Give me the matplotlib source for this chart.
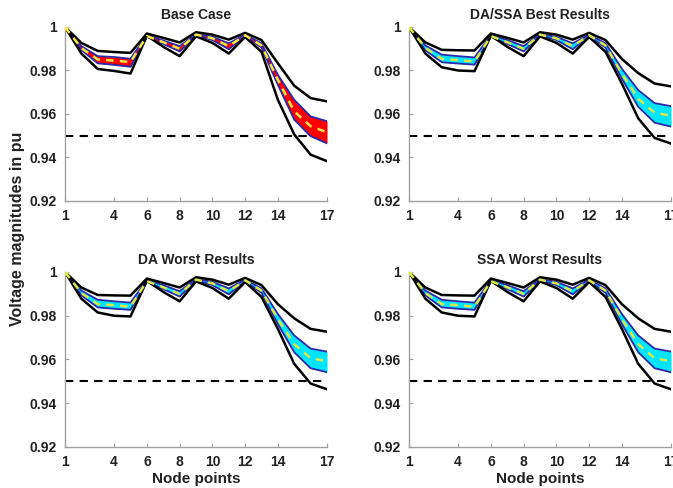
import matplotlib
matplotlib.use("Agg")
import matplotlib.pyplot as plt
import numpy as np

plt.rcParams['font.family'] = ['Liberation Sans', 'DejaVu Sans']

nodes = list(range(1, 18))
xticks = [1, 4, 6, 8, 10, 12, 14, 17]
yticks = [0.92, 0.94, 0.96, 0.98, 1.0]
ytick_labels = ['0.92', '0.94', '0.96', '0.98', '1']
threshold = 0.95

titles = ['Base Case', 'DA/SSA Best Results', 'DA Worst Results', 'SSA Worst Results']

# Base case
base_upper = [1.0, 0.9927, 0.989, 0.9885, 0.9881, 0.997, 0.995, 0.9929, 0.9976, 0.9965, 0.9942, 0.9973, 0.994, 0.9833, 0.973, 0.9673, 0.9658]
base_lower = [1.0, 0.9878, 0.9807, 0.9798, 0.9786, 0.996, 0.9909, 0.9866, 0.9957, 0.9927, 0.9878, 0.9954, 0.9886, 0.9665, 0.9506, 0.9413, 0.9383]
base_band_hi = [1.0, 0.9912, 0.9866, 0.9862, 0.9854, 0.9963, 0.9938, 0.9912, 0.9968, 0.9955, 0.9925, 0.9965, 0.9925, 0.978, 0.9665, 0.9589, 0.9567]
base_band_lo = [1.0, 0.9894, 0.9833, 0.9826, 0.9817, 0.9955, 0.9922, 0.9888, 0.9962, 0.994, 0.9898, 0.9958, 0.9905, 0.9734, 0.9574, 0.9498, 0.9465]
base_mean = [1.0, 0.9903, 0.9851, 0.9845, 0.9839, 0.9958, 0.993, 0.99, 0.9965, 0.9948, 0.9912, 0.9962, 0.9915, 0.9757, 0.9612, 0.9544, 0.9516]

# Optimised cases (DA/SSA best, DA worst, SSA worst)
opt_upper = [1.0, 0.9929, 0.9895, 0.9893, 0.9892, 0.997, 0.995, 0.9929, 0.9976, 0.9965, 0.9942, 0.9973, 0.994, 0.9853, 0.9788, 0.974, 0.9727]
opt_lower = [1.0, 0.9878, 0.9815, 0.980, 0.9797, 0.996, 0.9909, 0.9866, 0.9957, 0.9927, 0.9878, 0.9954, 0.9886, 0.974, 0.958, 0.949, 0.9464]
opt_band_hi = [1.0, 0.9915, 0.9873, 0.9866, 0.986, 0.9963, 0.994, 0.9912, 0.9968, 0.9955, 0.9925, 0.9965, 0.9925, 0.9808, 0.971, 0.965, 0.9636]
opt_band_lo = [1.0, 0.9893, 0.9838, 0.9832, 0.9827, 0.9955, 0.9922, 0.9888, 0.9962, 0.994, 0.9898, 0.9958, 0.9905, 0.9762, 0.9633, 0.956, 0.9542]
opt_mean = [1.0, 0.9904, 0.9853, 0.9848, 0.9841, 0.9958, 0.993, 0.99, 0.9965, 0.9948, 0.9912, 0.9962, 0.9915, 0.9785, 0.967, 0.9606, 0.9592]

panels = [
    (base_upper, base_lower, base_band_hi, base_band_lo, base_mean, '#ff0000', '#f5e642'),
    (opt_upper, opt_lower, opt_band_hi, opt_band_lo, opt_mean, '#00e5ff', '#d8e84a'),
    (opt_upper, opt_lower, opt_band_hi, opt_band_lo, opt_mean, '#00e5ff', '#d8e84a'),
    (opt_upper, opt_lower, opt_band_hi, opt_band_lo, opt_mean, '#00e5ff', '#d8e84a'),
]

W, H = 673, 488
fig = plt.figure(figsize=(W / 100, H / 100), dpi=100)

positions = [
    (65, 27, 262, 174),
    (409, 27, 262, 174),
    (65, 272, 262, 175),
    (409, 272, 262, 175),
]

for i, (pos, data, title) in enumerate(zip(positions, panels, titles)):
    x0, ytop, w, h = pos
    ax = fig.add_axes([x0 / W, 1 - (ytop + h) / H, w / W, h / H])
    up, lo, bhi, blo, mean, fillc, meanc = data
    ax.fill_between(nodes, blo, bhi, color=fillc, lw=0, zorder=2)
    ax.plot(nodes, bhi, color='#2a2aa8', lw=1.3, zorder=3)
    ax.plot(nodes, blo, color='#2a2aa8', lw=1.3, zorder=3)
    ax.plot(nodes, up, color='black', lw=1.8, zorder=4)
    ax.plot(nodes, lo, color='black', lw=1.8, zorder=4)
    ax.plot(nodes, mean, color=meanc, lw=1.8, ls=(0, (3, 2.5)), zorder=5)
    ax.plot([nodes[0]], [mean[0]], 'o', color=meanc, ms=3.5, zorder=6)
    ax.axhline(threshold, color='black', lw=1.5, ls=(0, (4, 3)), zorder=1)

    ax.set_xlim(1, 17)
    ax.set_ylim(0.92, 1.0)
    ax.set_xticks(xticks)
    ax.set_xticklabels([str(t) for t in xticks])
    ax.set_yticks(yticks)
    ax.set_yticklabels(ytick_labels)
    for s in ['top', 'right']:
        ax.spines[s].set_visible(False)
    for s in ['left', 'bottom']:
        ax.spines[s].set_color('#a0a0a0')
        ax.spines[s].set_linewidth(1.0)
    ax.tick_params(direction='in', length=3, width=0.8, color='#a0a0a0',
                   labelsize=10, labelcolor='#222222', pad=6)
    for lab in ax.get_xticklabels() + ax.get_yticklabels():
        lab.set_fontweight('bold')
    ax.set_title(title, fontsize=10, fontweight='bold', color='#222222', pad=6)
    ax.patch.set_visible(False)
    if i >= 2:
        ax.set_xlabel('Node points', fontsize=11, fontweight='bold', color='#222222', labelpad=2)

fig.text(18 / W, 1 - 229 / H, 'Voltage magnitudes in pu', rotation=90,
         ha='center', va='center', fontsize=11.5, fontweight='bold', color='#222222')

fig.savefig('out.png', dpi=100)
